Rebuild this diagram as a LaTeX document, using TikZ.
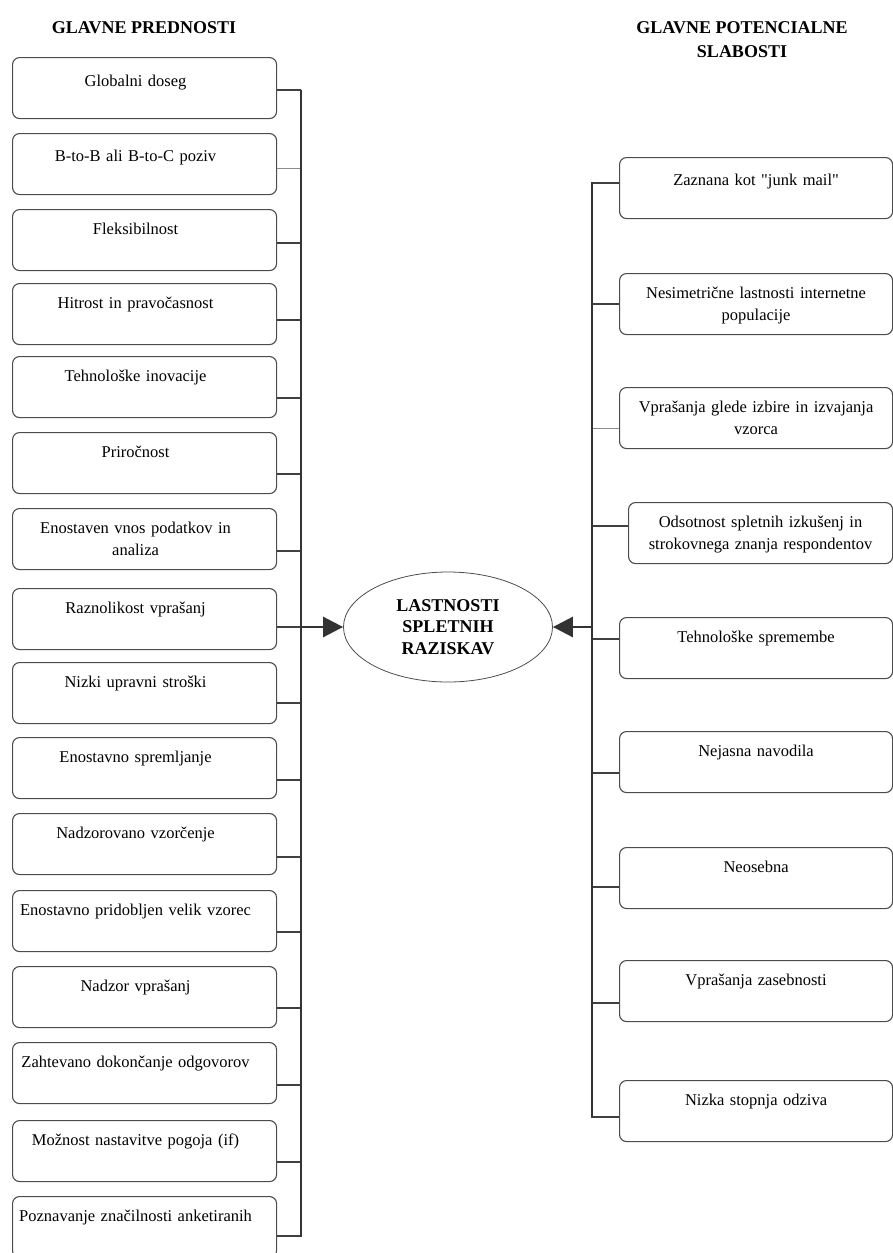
\documentclass[tikz,border=0pt]{standalone}
\usepackage{fontspec}
\setmainfont{Liberation Serif}[Ligatures=TeXOff]
\usetikzlibrary{arrows.meta, shapes.geometric}

\begin{document}
\begin{tikzpicture}[x=1pt, y=-1pt,
  item/.style={rectangle, rounded corners=7pt, draw=black!70, line width=1.1pt,
               minimum width=264pt, minimum height=61pt, anchor=north west,
               inner sep=0pt},
  itxt/.style={anchor=north, text width=256pt, align=center, inner sep=0pt,
               yshift=-14pt, font=\fontsize{16.5}{22}\selectfont},
  ltxt/.style={itxt, xshift=-9pt},
  head/.style={font=\fontsize{18}{24}\selectfont\bfseries, align=center},
  core/.style={ellipse, draw=black!70, line width=0.8pt, minimum width=209pt,
               minimum height=110pt, inner sep=0pt, align=center,
               font=\fontsize{18}{21.5}\selectfont\bfseries},
  bus/.style={line width=2.8pt, black!80},
  link/.style={line width=1.3pt, black!75},
  faint/.style={line width=0.7pt, black!45},
  feed/.style={-{Triangle[length=20pt, width=20pt]}, line width=2.8pt, black!80}
]
\useasboundingbox (0,0) rectangle (893,1253);
\def\xL{12}
\def\xBL{301}
\def\xR{619}
\def\xBR{592}

% headings
\node[head] (hL) at (144, 28) {GLAVNE PREDNOSTI};
\node[head] (hR) at (742, 40) {GLAVNE POTENCIALNE\\SLABOSTI};

% centre
\node[core] (core) at (448, 627) {LASTNOSTI\\SPLETNIH\\RAZISKAV};

% advantages
\node[item, label={[ltxt, yshift=-4pt]north:Globalni doseg}] (L1) at (\xL, 57) {};
\node[item, label={[ltxt, yshift=-3pt]north:B-to-B ali B-to-C poziv}] (L2) at (\xL, 133) {};
\node[item, label={[ltxt]north:Fleksibilnost}] (L3) at (\xL, 209) {};
\node[item, label={[ltxt]north:Hitrost in pravočasnost}] (L4) at (\xL, 283) {};
\node[item, label={[ltxt]north:Tehnološke inovacije}] (L5) at (\xL, 356) {};
\node[item, label={[ltxt]north:Priročnost}] (L6) at (\xL, 432) {};
\node[item, label={[ltxt]north:Enostaven vnos podatkov in\\analiza}] (L7) at (\xL, 508) {};
\node[item, label={[ltxt]north:Raznolikost vprašanj}] (L8) at (\xL, 588) {};
\node[item, label={[ltxt]north:Nizki upravni stroški}] (L9) at (\xL, 662) {};
\node[item, label={[ltxt]north:Enostavno spremljanje}] (L10) at (\xL, 737) {};
\node[item, label={[ltxt]north:Nadzorovano vzorčenje}] (L11) at (\xL, 813) {};
\node[item, label={[ltxt]north:Enostavno pridobljen velik vzorec}] (L12) at (\xL, 890) {};
\node[item, label={[ltxt]north:Nadzor vprašanj}] (L13) at (\xL, 966) {};
\node[item, label={[ltxt]north:Zahtevano dokončanje odgovorov}] (L14) at (\xL, 1042) {};
\node[item, label={[ltxt]north:Možnost nastavitve pogoja (if)}] (L15) at (\xL, 1120) {};
\node[item, label={[ltxt]north:Poznavanje značilnosti anketiranih}] (L16) at (\xL, 1196) {};

% weaknesses
\node[item, minimum width=273pt, label={[itxt, yshift=-3pt]north:Zaznana kot "junk mail"}] (R1) at (\xR, 157) {};
\node[item, minimum width=273pt, label={[itxt]north:Nesimetrične lastnosti internetne\\populacije}] (R2) at (\xR, 273) {};
\node[item, minimum width=273pt, label={[itxt]north:Vprašanja glede izbire in izvajanja\\vzorca}] (R3) at (\xR, 387) {};
\node[item, label={[itxt]north:Odsotnost spletnih izkušenj in\\strokovnega znanja respondentov}] (R4) at (628, 502) {};
\node[item, minimum width=273pt, label={[itxt]north:Tehnološke spremembe}] (R5) at (\xR, 617) {};
\node[item, minimum width=273pt, label={[itxt]north:Nejasna navodila}] (R6) at (\xR, 731) {};
\node[item, minimum width=273pt, label={[itxt]north:Neosebna}] (R7) at (\xR, 847) {};
\node[item, minimum width=273pt, label={[itxt]north:Vprašanja zasebnosti}] (R8) at (\xR, 960) {};
\node[item, minimum width=273pt, label={[itxt]north:Nizka stopnja odziva}] (R9) at (\xR, 1080) {};

% left bus
\coordinate (busL) at (\xBL, 90);
\coordinate (busLend) at (\xBL, 1236);
\draw[link] (busL) |- ([yshift=-2pt]L1.east);
\draw[faint] (busL) |- ([yshift=-4pt]L2.east);
\draw[link] (busL) |- ([yshift=-3pt]L3.east);
\draw[link] (busL) |- ([yshift=-6pt]L4.east);
\draw[link] (busL) |- ([yshift=-11pt]L5.east);
\draw[link] (busL) |- ([yshift=-11pt]L6.east);
\draw[link] (busL) |- ([yshift=-12pt]L7.east);
\draw[link] (busL) |- ([yshift=-8pt]L8.east);
\draw[link] (busL) |- ([yshift=-10pt]L9.east);
\draw[link] (busL) |- ([yshift=-12pt]L10.east);
\draw[link] (busL) |- ([yshift=-13pt]L11.east);
\draw[link] (busL) |- ([yshift=-11pt]L12.east);
\draw[link] (busL) |- ([yshift=-11pt]L13.east);
\draw[link] (busL) |- ([yshift=-12pt]L14.east);
\draw[link] (busL) |- ([yshift=-11pt]L15.east);
\draw[link] (busL) |- ([yshift=-9pt]L16.east);
\draw[bus] (busL) -- (busLend);

% right bus
\coordinate (busR) at (\xBR, 182);
\coordinate (busRend) at (\xBR, 1117);
\draw[link] (busR) |- ([yshift=5pt]R1.west);
\draw[link] (busR) |- (R2.west);
\draw[faint] (busR) |- ([yshift=-10pt]R3.west);
\draw[link] (busR) |- ([yshift=7pt]R4.west);
\draw[link] (busR) |- ([yshift=9pt]R5.west);
\draw[link] (busR) |- ([yshift=-11pt]R6.west);
\draw[link] (busR) |- ([yshift=-9pt]R7.west);
\draw[link] (busR) |- ([yshift=-12pt]R8.west);
\draw[link] (busR) |- ([yshift=-6pt]R9.west);
\draw[bus] (busR) -- (busRend);

% into the centre
\draw[feed] (busL |- core.west) -- (core.west);
\draw[feed] (busR |- core.east) -- (core.east);
\end{tikzpicture}
\end{document}
